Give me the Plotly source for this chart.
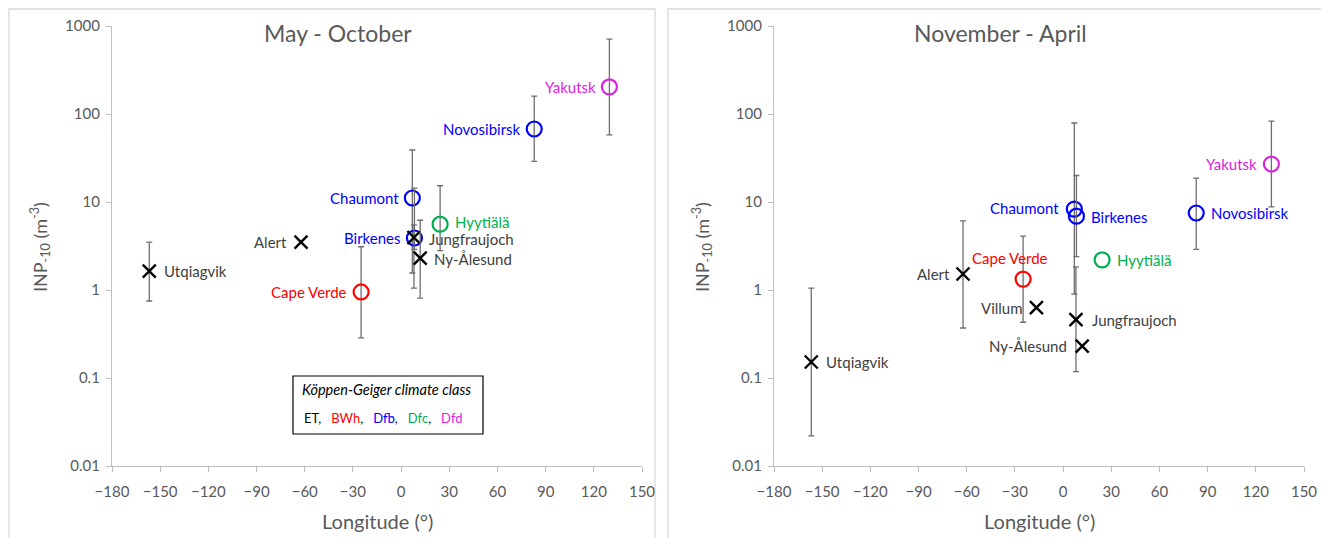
import math
import plotly.graph_objects as go

# ---------------- data ----------------
stations = ["Utqiagvik", "Alert", "Cape Verde", "Villum", "Chaumont", "Birkenes",
            "Jungfraujoch", "Ny-Ålesund", "Hyytiälä", "Novosibirsk", "Yakutsk"]
longitude = [-156.8, -62.3, -24.9, -16.6, 7.0, 8.3, 8.0, 11.9, 24.3, 82.9, 129.7]
climate = ["ET", "ET", "BWh", "ET", "Dfb", "Dfb", "ET", "ET", "Dfc", "Dfb", "Dfd"]

# May - October (None = not shown)
summer_val = [1.64, 3.5, 0.95, None, 11.1, 3.9, 3.95, 2.3, 5.6, 67.5, 203]
summer_hi = [3.5, None, 3.1, None, 39, 14.4, 5.5, 6.2, 15.3, 160, 710]
summer_lo = [0.75, None, 0.285, None, 1.56, 2.9, 1.05, 0.81, 2.8, 29, 58]

# November - April
winter_val = [0.152, 1.52, 1.33, 0.63, 8.3, 6.9, 0.46, 0.23, 2.2, 7.5, 27]
winter_hi = [1.05, 6.1, 4.1, None, 79, 20, 1.83, None, None, 18.7, 83]
winter_lo = [0.022, 0.37, 0.43, None, 0.9, 2.4, 0.118, None, None, 2.9, 8.8]

# label placement per panel: (anchor, xshift, yshift)
summer_label_pos = {"Utqiagvik": ("left", 13, 0), "Alert": ("right", -12, 0),
                    "Cape Verde": ("right", -12, 0), "Chaumont": ("right", -11, 0),
                    "Birkenes": ("right", -11, 0), "Jungfraujoch": ("left", 13, -1),
                    "Ny-Ålesund": ("left", 12, -1), "Hyytiälä": ("left", 13, 2),
                    "Novosibirsk": ("right", -11, 0), "Yakutsk": ("right", -11, 0)}
winter_label_pos = {"Utqiagvik": ("left", 13, 0), "Alert": ("right", -11, 0),
                    "Cape Verde": ("center", -13, 21), "Villum": ("right", -11, 0),
                    "Chaumont": ("right", -13, 1), "Birkenes": ("left", 13, -1),
                    "Jungfraujoch": ("left", 14, 0), "Ny-Ålesund": ("right", -13, 0),
                    "Hyytiälä": ("left", 13, 0), "Novosibirsk": ("left", 13, 0),
                    "Yakutsk": ("right", -12, 0)}

climate_colors = {"ET": "#000000", "BWh": "#FF0000", "Dfb": "#0000FF",
                  "Dfc": "#00B050", "Dfd": "#DD22DD"}
label_colors = {"ET": "#404040", "BWh": "#FF0000", "Dfb": "#0000FF",
                "Dfc": "#00B050", "Dfd": "#DD22DD"}

ytick_vals = [0.01, 0.1, 1, 10, 100, 1000]
ytick_text = ["0.01", "0.1", "1", "10", "100", "1000"]
xtick_vals = list(range(-180, 151, 30))

# page body has an 8px margin: lay out in page pixels, shifted by it
OFF = 8
W, H = 1329 - OFF, 538 - OFF
FONT = "Lato, Open Sans, sans-serif"
GRAY = "#595959"


def px(x):
    return (x - OFF) / W


def py(y):
    return 1 - (y - OFF) / H


fig = go.Figure()


def add_panel(vals, his, los, label_pos, xa, ya):
    for i, name in enumerate(stations):
        v = vals[i]
        if v is None:
            continue
        cls = climate[i]
        col = climate_colors[cls]
        if cls == "ET":
            marker = dict(symbol="x-thin-open", size=13, color=col,
                          line=dict(width=2.4, color=col))
        else:
            marker = dict(symbol="circle-open", size=15, color=col,
                          line=dict(width=2.2, color=col))
        kw = {}
        if his[i] is not None:
            kw["error_y"] = dict(type="data", symmetric=False,
                                 array=[his[i] - v], arrayminus=[v - los[i]],
                                 color="#6E6E6E", thickness=1.3, width=3)
        fig.add_trace(go.Scatter(x=[longitude[i]], y=[v], mode="markers",
                                 marker=marker, xaxis=xa, yaxis=ya,
                                 showlegend=False, hoverinfo="skip", **kw))
        anchor, xs, ys = label_pos[name]
        fig.add_annotation(x=longitude[i], y=math.log10(v), xref=xa, yref=ya,
                           text=name, showarrow=False, xanchor=anchor,
                           yanchor="middle", xshift=xs, yshift=ys,
                           font=dict(family=FONT, size=15, color=label_colors[cls]))


add_panel(summer_val, summer_hi, summer_lo, summer_label_pos, "x", "y")
add_panel(winter_val, winter_hi, winter_lo, winter_label_pos, "x2", "y2")

ydom = [py(466), py(26)]
axis_common = dict(showgrid=False, zeroline=False, showline=True,
                   linecolor="#BFBFBF", linewidth=1.3, ticks="outside",
                   ticklen=5, tickcolor="#BFBFBF", automargin=False,
                   tickfont=dict(family=FONT, size=15, color=GRAY))
fig.update_layout(
    width=W, height=H,
    margin=dict(l=0, r=0, t=0, b=0, pad=0, autoexpand=False),
    paper_bgcolor="white", plot_bgcolor="white",
    xaxis=dict(domain=[px(112), px(642)], range=[-180, 150], tickvals=xtick_vals,
               anchor="y", ticklabelstandoff=7, **axis_common),
    yaxis=dict(domain=ydom, type="log", range=[-2, 3], tickvals=ytick_vals,
               ticktext=ytick_text, anchor="x", ticklabelstandoff=3, **axis_common),
    xaxis2=dict(domain=[px(774), px(1304)], range=[-180, 150], tickvals=xtick_vals,
                anchor="y2", ticklabelstandoff=7, **axis_common),
    yaxis2=dict(domain=ydom, type="log", range=[-2, 3], tickvals=ytick_vals,
                ticktext=ytick_text, anchor="x2", ticklabelstandoff=3, **axis_common),
)

# panel borders
for x0, x1 in [(9, 655), (668, 1328)]:
    fig.add_shape(type="rect", xref="paper", yref="paper",
                  x0=px(x0), x1=px(x1), y0=-0.05, y1=py(9),
                  line=dict(color="#D9D9D9", width=1.3), layer="below")


def paper_text(x, y, text, size, color=GRAY, xanchor="center", angle=0):
    fig.add_annotation(x=px(x), y=py(y), xref="paper", yref="paper",
                       text=text, showarrow=False, xanchor=xanchor,
                       yanchor="middle", textangle=angle,
                       font=dict(family=FONT, size=size, color=color))


# titles
for txt, cx in [("May - October", 338), ("November - April", 1000)]:
    paper_text(cx, 33, txt, 23)
for cx in [377, 1039]:
    paper_text(cx, 521, "Longitude (°)", 20)
for cx in [40, 702]:
    paper_text(cx, 247, "INP<sub>-10</sub> (m<sup>-3</sup>)", 18, angle=-90)

# climate-class legend box
fig.add_shape(type="rect", xref="paper", yref="paper",
              x0=px(293), x1=px(483), y0=py(434), y1=py(376),
              line=dict(color="#000000", width=1.2), fillcolor="white")
paper_text(300, 389, "<i>Köppen-Geiger climate class</i>", 14.5,
           color="#000000", xanchor="left")
legend_line = ",&nbsp;&nbsp; ".join(
    f'<span style="color:{climate_colors[c]}">{c}</span>'
    for c in ["ET", "BWh", "Dfb", "Dfc", "Dfd"])
paper_text(302, 418, legend_line, 13, color="#000000", xanchor="left")

fig.write_html("out.html")
